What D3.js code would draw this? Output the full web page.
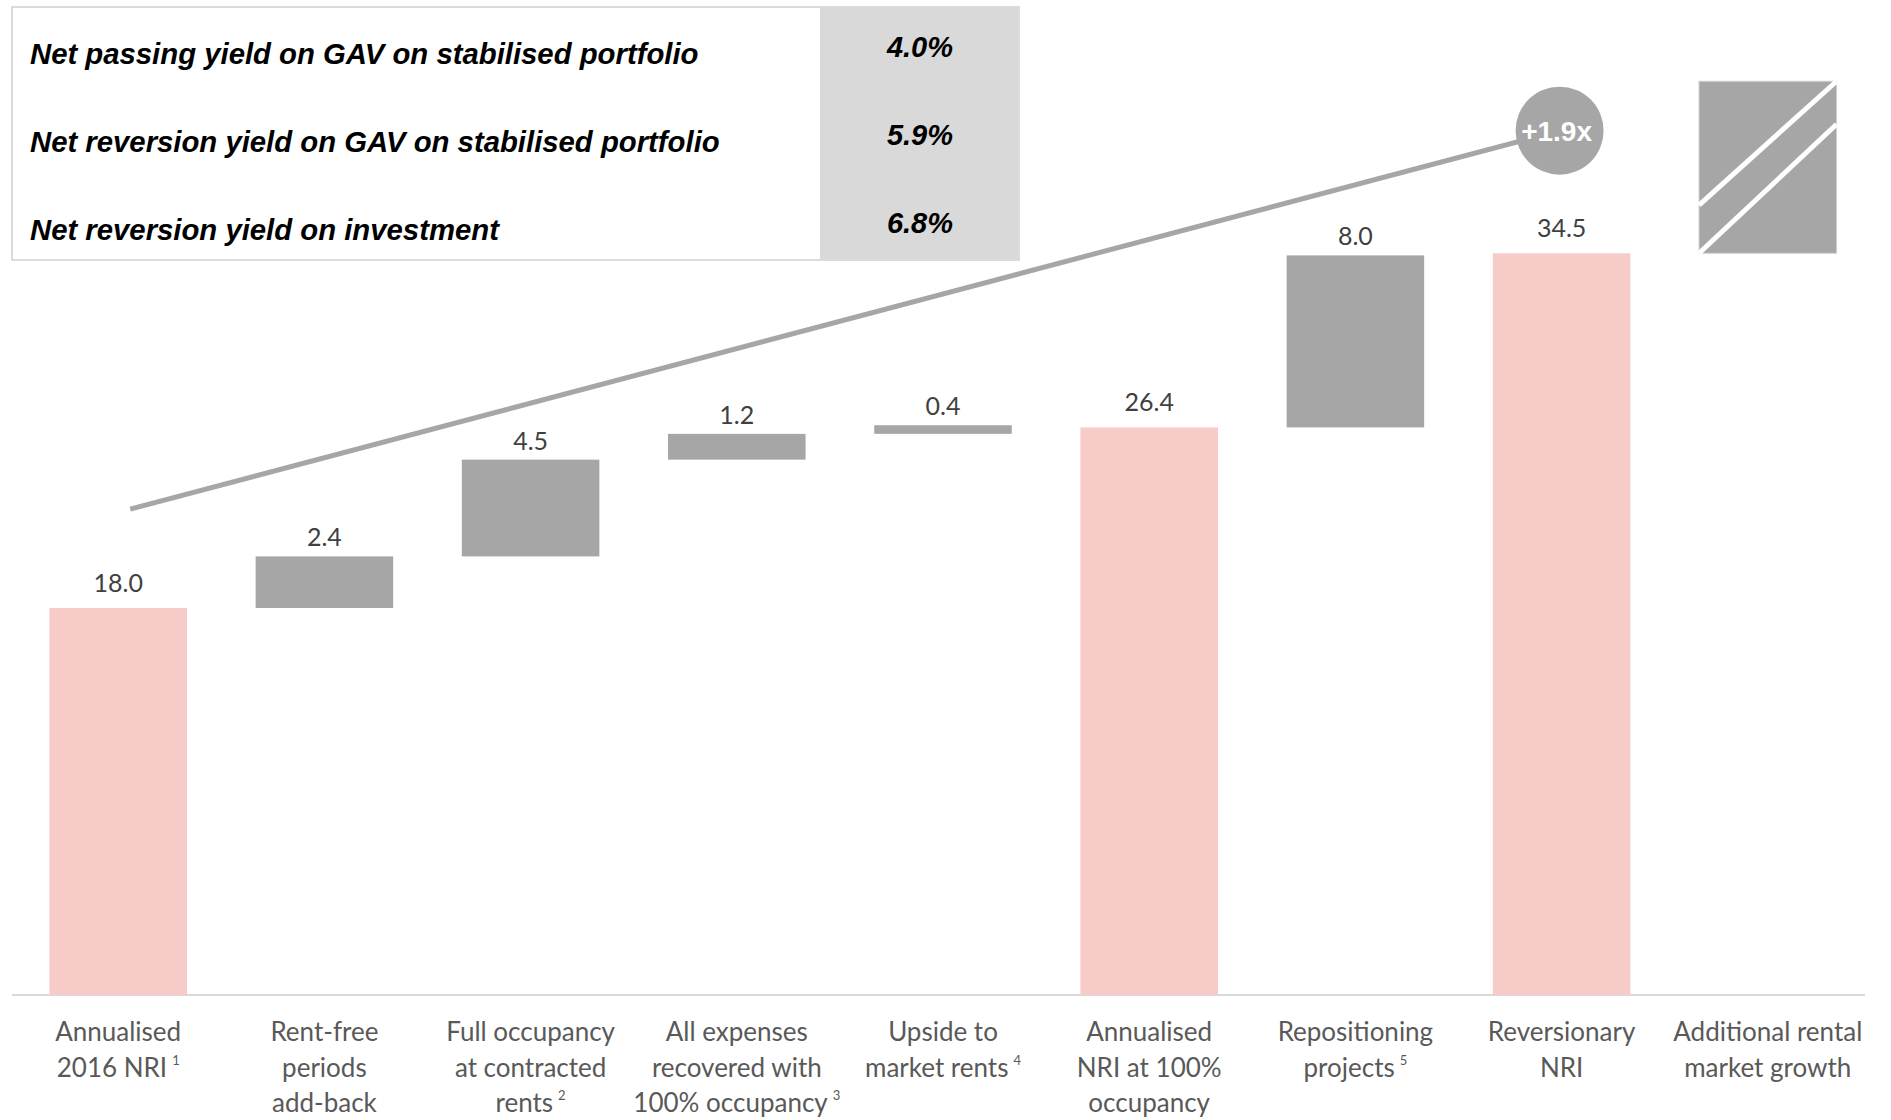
<!DOCTYPE html>
<html>
<head>
<meta charset="utf-8">
<script src="https://cdn.jsdelivr.net/npm/d3@7"></script>
<style>
  html, body { margin: 0; padding: 0; background: #ffffff; }
  svg { display: block; }
</style>
</head>
<body>
<svg id="chart" width="1891" height="1120"></svg>
<script>
// Net rental income bridge (EUR m)
const categories = [
  "Annualised 2016 NRI",
  "Rent-free periods add-back",
  "Full occupancy at contracted rents",
  "All expenses recovered with 100% occupancy",
  "Upside to market rents",
  "Annualised NRI at 100% occupancy",
  "Repositioning projects",
  "Reversionary NRI",
  "Additional rental market growth"
];
// Axis label lines per category, with optional footnote marker
const labelLines = [
  [["Annualised"], ["2016 NRI", "1"]],
  [["Rent-free"], ["periods"], ["add-back"]],
  [["Full occupancy"], ["at contracted"], ["rents", "2"]],
  [["All expenses"], ["recovered with"], ["100% occupancy", "3"]],
  [["Upside to"], ["market rents", "4"]],
  [["Annualised"], ["NRI at 100%"], ["occupancy"]],
  [["Repositioning"], ["projects", "5"]],
  [["Reversionary"], ["NRI"]],
  [["Additional rental"], ["market growth"]]
];
const values = [18.0, 2.4, 4.5, 1.2, 0.4, 26.4, 8.0, 34.5, 8.0];
const kinds  = ["total", "step", "step", "step", "step", "total", "step", "total", "open"];
const valueLabels = ["18.0", "2.4", "4.5", "1.2", "0.4", "26.4", "8.0", "34.5", ""];

// Yield summary table
const yieldNames  = [
  "Net passing yield on GAV on stabilised portfolio",
  "Net reversion yield on GAV on stabilised portfolio",
  "Net reversion yield on investment"
];
const yieldValues = ["4.0%", "5.9%", "6.8%"];

// Growth multiple annotation: from the first bar to the reversionary NRI bar
const growthLabel = "+1.9x";
const growthFrom = { index: 0, value: 22.6 };
const growthTo   = { index: 7, value: 40.2 };

const PINK = "#f7cbc7";
const GREY = "#a6a6a6";

const svg = d3.select("#chart");

const x = d3.scaleBand()
  .domain(d3.range(categories.length))
  .range([15, 1871])
  .paddingInner(0.333)
  .paddingOuter(0.167);

const y = d3.scaleLinear().domain([0, 40]).range([995, 135]);

// waterfall bases
let running = 0;
const bars = values.map((v, i) => {
  let lo, hi;
  if (kinds[i] === "total") { lo = 0; hi = v; running = v; }
  else { lo = running; hi = running + v; running = hi; }
  return { i, lo, hi, kind: kinds[i], label: valueLabels[i] };
});

// baseline
svg.append("line")
  .attr("x1", 12).attr("x2", 1865)
  .attr("y1", y(0)).attr("y2", y(0))
  .attr("stroke", "#d9d9d9").attr("stroke-width", 2);

// bars
svg.append("g").selectAll("rect")
  .data(bars)
  .join("rect")
  .attr("x", d => x(d.i))
  .attr("width", x.bandwidth())
  .attr("y", d => y(d.hi))
  .attr("height", d => y(d.lo) - y(d.hi))
  .attr("fill", d => d.kind === "total" ? PINK : GREY)
  .attr("stroke", d => d.kind === "open" ? "#cfcfcf" : "none")
  .attr("stroke-width", 1);

// diagonal stripes on the open-ended bar
const open = bars.filter(d => d.kind === "open");
open.forEach(d => {
  const x0 = x(d.i), x1 = x(d.i) + x.bandwidth();
  const top = y(d.hi), bot = y(d.lo), h = bot - top;
  [[0.72, 0.0], [1.0, 0.25]].forEach(([a, b]) => {
    svg.append("line")
      .attr("x1", x0).attr("y1", top + a * h)
      .attr("x2", x1).attr("y2", top + b * h)
      .attr("stroke", "#ffffff").attr("stroke-width", 5);
  });
});

// value labels
svg.append("g").selectAll("text")
  .data(bars.filter(d => d.label))
  .join("text")
  .attr("x", d => x(d.i) + x.bandwidth() / 2)
  .attr("y", d => y(d.hi) - (d.kind === "total" ? 16 : 10))
  .attr("text-anchor", "middle")
  .attr("font-family", "Lato, 'Open Sans', sans-serif")
  .attr("font-size", 25)
  .attr("fill", "#404040")
  .text(d => d.label);

// category labels
const catG = svg.append("g");
labelLines.forEach((lines, i) => {
  const t = catG.append("text")
    .attr("text-anchor", "middle")
    .attr("font-family", "Lato, 'Open Sans', sans-serif")
    .attr("font-size", 26)
    .attr("fill", "#595959");
  lines.forEach((ln, k) => {
    t.append("tspan")
      .attr("x", x(i) + x.bandwidth() / 2)
      .attr("y", 1041 + k * 35.5)
      .text(ln[0]);
    if (ln[1]) {
      t.append("tspan").attr("dx", 5).attr("dy", -12)
        .attr("font-size", 13).text(ln[1]);
    }
  });
});

// growth trend line and bubble
const gx0 = x(growthFrom.index) + x.bandwidth() / 2 + 12;
const gx1 = x(growthTo.index) + x.bandwidth() / 2 - 2;
svg.append("line")
  .attr("x1", gx0).attr("y1", y(growthFrom.value))
  .attr("x2", gx1).attr("y2", y(growthTo.value))
  .attr("stroke", GREY).attr("stroke-width", 5);
svg.append("circle")
  .attr("cx", gx1).attr("cy", y(growthTo.value))
  .attr("r", 44).attr("fill", GREY);
svg.append("text")
  .attr("x", gx1 - 3).attr("y", y(growthTo.value) + 10)
  .attr("text-anchor", "middle")
  .attr("font-family", "'Liberation Sans', Arial, sans-serif")
  .attr("font-weight", "bold")
  .attr("font-size", 28)
  .attr("fill", "#ffffff")
  .text(growthLabel);

// yield table
const table = svg.append("g");
table.append("rect")
  .attr("x", 12).attr("y", 7).attr("width", 1007).attr("height", 253)
  .attr("fill", "#ffffff").attr("stroke", "#d0d0d0").attr("stroke-width", 1.5);
table.append("rect")
  .attr("x", 820).attr("y", 7.75).attr("width", 198.25).attr("height", 251.5)
  .attr("fill", "#d9d9d9");
const rowY = d3.scalePoint().domain(d3.range(yieldNames.length)).range([64, 240]);
table.selectAll("text.name")
  .data(yieldNames)
  .join("text")
  .attr("class", "name")
  .attr("x", 30)
  .attr("y", (d, i) => rowY(i))
  .attr("font-family", "'Liberation Sans', Arial, sans-serif")
  .attr("font-weight", "bold")
  .attr("font-style", "italic")
  .attr("font-size", 29.3)
  .attr("fill", "#000000")
  .text(d => d);
table.selectAll("text.val")
  .data(yieldValues)
  .join("text")
  .attr("class", "val")
  .attr("x", 920)
  .attr("y", (d, i) => rowY(i) - 7)
  .attr("text-anchor", "middle")
  .attr("font-family", "'Liberation Sans', Arial, sans-serif")
  .attr("font-weight", "bold")
  .attr("font-style", "italic")
  .attr("font-size", 29)
  .attr("fill", "#000000")
  .text(d => d);
</script>
</body>
</html>
